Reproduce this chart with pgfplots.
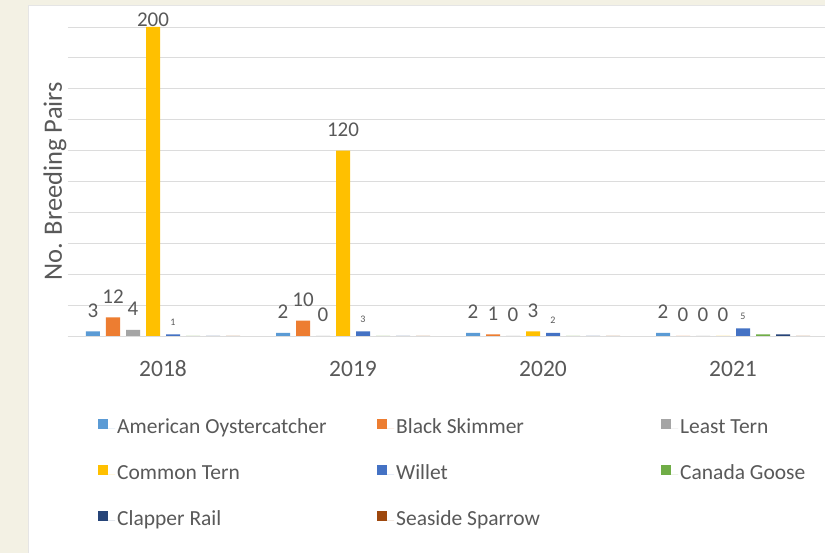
\documentclass[border=0pt]{standalone}
\usepackage{pgfplots}
\pgfplotsset{compat=1.18}
\usepackage{fontspec}
\setmainfont{Carlito}
\definecolor{cAO}{HTML}{5B9BD5}
\definecolor{cBS}{HTML}{ED7D31}
\definecolor{cLT}{HTML}{A5A5A5}
\definecolor{cCT}{HTML}{FFC000}
\definecolor{cWI}{HTML}{4472C4}
\definecolor{cCG}{HTML}{70AD47}
\definecolor{cCR}{HTML}{264478}
\definecolor{cSS}{HTML}{9E480E}
\definecolor{labgray}{HTML}{595959}
\definecolor{bgbeige}{HTML}{F3F1E4}
\definecolor{gridgray}{HTML}{DCDCDC}
\begin{document}
\begin{tikzpicture}[x=1pt,y=1pt]
\useasboundingbox (0,0) rectangle (825,553);
\fill[bgbeige] (0,0) rectangle (825,553);
\filldraw[fill=white, draw=gray!20] (28,-5) rectangle (832,548);
\begin{axis}[
  at={(68pt,217pt)}, anchor=south west,
  scale only axis, width=760pt, height=309pt,
  ybar, bar width=14pt, ybar=6pt,
  xmin=-0.5, xmax=3.5, ymin=0, ymax=200,
  xtick={0,1,2,3}, xticklabels={2018,2019,2020,2021},
  ytick={0,20,...,200}, yticklabels={},
  ymajorgrids, grid style={draw=gridgray, line width=0.8pt},
  axis lines*=left,
  x axis line style={draw=gridgray, line width=0.8pt},
  y axis line style={draw=none},
  tick style={draw=none},
  /pgf/number format/assume math mode=true,
  xticklabel style={font=\fontsize{23.5}{25}\selectfont, text=labgray, yshift=-17pt},
  ylabel={No. Breeding Pairs},
  every axis y label/.style={at={(axis description cs:0,0.5)}, rotate=90, anchor=center, yshift=13pt, font=\fontsize{26.5}{28}\selectfont, text=labgray},
  clip=false,
  every node near coord/.append style={font=\fontsize{21}{21}\selectfont, text=labgray, inner sep=0pt, anchor=south, yshift=14pt},
  legend style={at={(0.0355,-0.255)}, anchor=north west, draw=none, fill=none,
    font=\fontsize{21.5}{23}\selectfont, text=labgray, legend columns=3,
    nodes={text height=15pt, text depth=4pt, inner sep=2pt},
    row sep=23pt},
  legend image code/.code={\fill[#1,draw=none] (0pt,-1pt) rectangle (10pt,9pt); \path (0pt,0pt) -- (17pt,0pt);},
  legend cell align=left,
]
\addplot[fill=cAO, draw=none, nodes near coords] coordinates {(0,3) (1,2) (2,2) (3,2)};
\addplot[fill=cBS, draw=none, nodes near coords] coordinates {(0,12) (1,10) (2,1) (3,0)};
\addplot[fill=cLT, draw=none, nodes near coords] coordinates {(0,4) (1,0) (2,0) (3,0)};
\addplot[fill=cCT, draw=none, nodes near coords,
  coordinate style/.condition={y>150}{yshift=-14pt, font=\fontsize{18}{18}\selectfont}] coordinates {(0,200) (1,120) (2,3) (3,0)};
\addplot[fill=cWI, draw=none, nodes near coords,
  every node near coord/.append style={font=\fontsize{10}{10}\selectfont, yshift=-5pt}] coordinates {(0,1) (1,3) (2,2) (3,5)};
\addplot[fill=cCG, draw=none] coordinates {(0,0) (1,0) (2,0) (3,1)};
\addplot[fill=cCR, draw=none] coordinates {(0,0) (1,0) (2,0) (3,1)};
\addplot[fill=cSS, draw=none] coordinates {(0,0) (1,0) (2,0) (3,0)};
\addlegendentry{\makebox[258pt][l]{American Oystercatcher}}
\addlegendentry{\makebox[263pt][l]{Black Skimmer}}
\addlegendentry{Least Tern}
\addlegendentry{Common Tern}
\addlegendentry{Willet}
\addlegendentry{Canada Goose}
\addlegendentry{Clapper Rail}
\addlegendentry{Seaside Sparrow}
\end{axis}
\end{tikzpicture}
\end{document}
